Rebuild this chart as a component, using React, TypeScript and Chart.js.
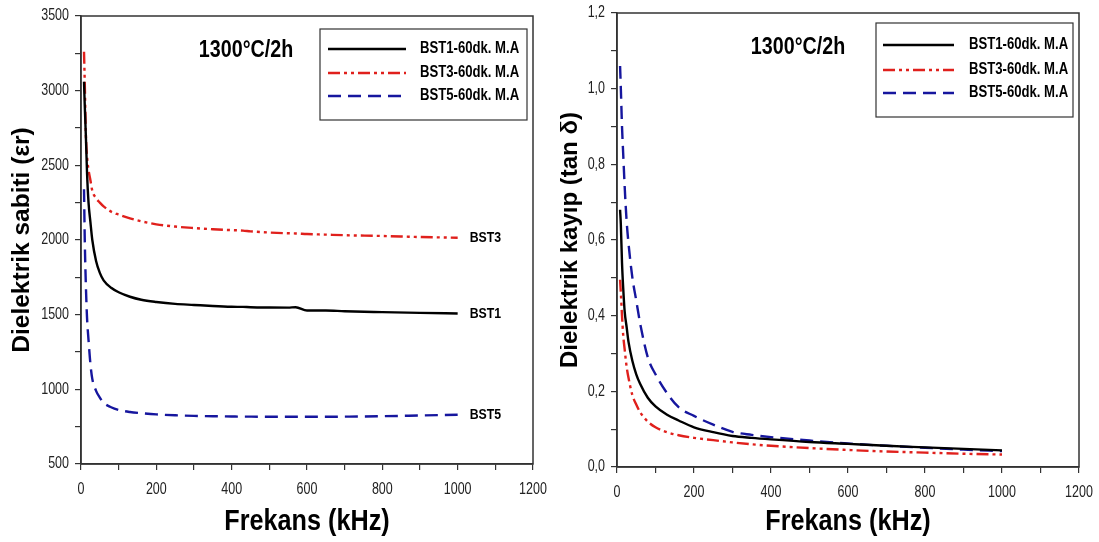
import React, { useEffect, useRef } from "react";
import { Chart, registerables } from "chart.js";

Chart.register(...registerables);

const SANS = "'Liberation Sans', Arial, sans-serif";
const NARROW_SCALE = 0.82;

// ---------- Left chart: dielectric constant ----------
const epsFreq = [8, 10, 13, 16, 20, 25, 30, 40, 50, 60, 80, 100, 130, 160, 200, 250, 300, 350, 400, 430, 450, 500, 550, 570, 600, 650, 700, 800, 900, 1000];
const epsBST1 = [3060, 2900, 2690, 2450, 2250, 2120, 2000, 1860, 1780, 1730, 1680, 1650, 1620, 1600, 1585, 1572, 1565, 1558, 1553, 1552, 1550, 1548, 1547, 1550, 1528, 1528, 1523, 1517, 1512, 1508];
const epsBST3 = [3260, 3050, 2700, 2560, 2470, 2400, 2330, 2280, 2250, 2225, 2190, 2170, 2145, 2125, 2105, 2090, 2080, 2072, 2066, 2063, 2058, 2050, 2045, 2044, 2040, 2036, 2032, 2027, 2020, 2015];
const epsBST5 = [2340, 2000, 1690, 1480, 1330, 1170, 1070, 990, 945, 910, 880, 862, 848, 840, 832, 826, 822, 820, 818, 817, 817, 816, 816, 816, 816, 816, 817, 820, 825, 830];

// ---------- Right chart: dielectric loss ----------
const lossFreq = [8, 10, 13, 16, 20, 25, 30, 40, 50, 60, 80, 100, 130, 160, 200, 250, 300, 350, 400, 500, 600, 700, 800, 900, 1000];
const lossBST1 = [0.68, 0.64, 0.54, 0.475, 0.41, 0.37, 0.33, 0.28, 0.245, 0.22, 0.183, 0.16, 0.138, 0.123, 0.105, 0.092, 0.082, 0.077, 0.073, 0.066, 0.061, 0.056, 0.052, 0.048, 0.044];
const lossBST3 = [0.495, 0.46, 0.4, 0.35, 0.31, 0.265, 0.235, 0.19, 0.165, 0.145, 0.12, 0.105, 0.092, 0.084, 0.077, 0.071, 0.065, 0.06, 0.056, 0.05, 0.045, 0.041, 0.038, 0.035, 0.033];
const lossBST5 = [1.06, 1.0, 0.9, 0.83, 0.74, 0.65, 0.59, 0.5, 0.44, 0.38, 0.29, 0.245, 0.195, 0.158, 0.135, 0.112, 0.093, 0.085, 0.079, 0.07, 0.062, 0.056, 0.051, 0.046, 0.042];

const seriesNames = ["BST1-60dk. M.A", "BST3-60dk. M.A", "BST5-60dk. M.A"];
const endLabels = ["BST1", "BST3", "BST5"];
const chartTitle = "1300°C/2h";
const xTitle = "Frekans (kHz)";
const epsYTitle = "Dielektrik sabiti (εr)";
const lossYTitle = "Dielektrik kayıp (tan δ)";

const colors = ["#000000", "#e0201c", "#16169e"];
const dashes: number[][] = [[], [12, 4, 3, 4, 3, 4], [13, 7]];

const toPoints = (xs: number[], ys: number[]) => xs.map((x, i) => ({ x, y: ys[i] }));

function makeDatasets(xs: number[], series: number[][]) {
  return series.map((ys, i) => ({
    label: seriesNames[i],
    data: toPoints(xs, ys),
    borderColor: colors[i],
    backgroundColor: colors[i],
    borderWidth: 2.4,
    borderDash: dashes[i],
    pointRadius: 0,
    fill: false,
    cubicInterpolationMode: "monotone" as const,
  }));
}

function narrowText(ctx: any, text: string, x: number, y: number, font: string, align: string, sx = NARROW_SCALE) {
  ctx.save();
  ctx.font = font;
  ctx.textAlign = align;
  ctx.textBaseline = "middle";
  ctx.translate(x, y);
  ctx.scale(sx, 1);
  ctx.fillText(text, 0, 0);
  ctx.restore();
}

type Overlay = {
  titleX: number;
  titleY: number;
  box: { x: number; y: number; w: number; h: number };
  rows: number[];
  sampleX1: number;
  sampleX2: number;
  textX: number;
  xLabel: (v: number) => string;
  yLabel: (v: number) => string;
  endLabels?: string[];
};

function overlayPlugin(o: Overlay) {
  return {
    id: "overlay",
    afterDraw(chart: any) {
      const { ctx, chartArea: a } = chart;
      const xs = chart.scales.x;
      const ys = chart.scales.y;
      ctx.save();
      ctx.setLineDash([]);
      ctx.strokeStyle = "#333";
      ctx.lineWidth = 1.5;
      ctx.strokeRect(a.left, a.top, a.right - a.left, a.bottom - a.top);

      // tick labels (narrow)
      ctx.fillStyle = "#222";
      const tickFont = `16px ${SANS}`;
      xs.ticks.forEach((t: any) => {
        const s = o.xLabel(t.value);
        if (s) narrowText(ctx, s, xs.getPixelForValue(t.value), a.bottom + 26, tickFont, "center", 0.78);
      });
      ys.ticks.forEach((t: any) => {
        const s = o.yLabel(t.value);
        if (s) narrowText(ctx, s, a.left - 12, ys.getPixelForValue(t.value), tickFont, "right", 0.78);
      });

      // x axis title
      ctx.fillStyle = "#000";
      narrowText(ctx, xTitle, (a.left + a.right) / 2, 522, `bold 30px ${SANS}`, "center", 0.84);

      // chart title
      narrowText(ctx, chartTitle, o.titleX, o.titleY, `bold 24px ${SANS}`, "center");

      // legend
      ctx.strokeStyle = "#333";
      ctx.lineWidth = 1.2;
      ctx.strokeRect(o.box.x, o.box.y, o.box.w, o.box.h);
      chart.data.datasets.forEach((ds: any, i: number) => {
        const y = o.rows[i];
        ctx.beginPath();
        ctx.setLineDash(ds.borderDash || []);
        ctx.strokeStyle = ds.borderColor;
        ctx.lineWidth = 2.6;
        ctx.moveTo(o.sampleX1, y);
        ctx.lineTo(o.sampleX2, y);
        ctx.stroke();
        ctx.setLineDash([]);
        ctx.fillStyle = "#000";
        narrowText(ctx, ds.label, o.textX, y, `bold 16px ${SANS}`, "left");
      });

      if (o.endLabels) {
        ctx.fillStyle = "#000";
        chart.data.datasets.forEach((ds: any, i: number) => {
          const last = ds.data[ds.data.length - 1];
          narrowText(ctx, o.endLabels![i], xs.getPixelForValue(last.x) + 12, ys.getPixelForValue(last.y), `bold 15px ${SANS}`, "left");
        });
      }
      ctx.restore();
    },
  };
}

type Cfg = {
  datasets: any[];
  yMin: number;
  yMax: number;
  yStep: number;
  yTitle: string;
  yTitleSize: number;
  yWidth: number;
  yTitleOffset: number;
  padTop: number;
  padRight: number;
  xHeight: number;
  overlay: Overlay;
};

function buildConfig(c: Cfg): any {
  return {
    type: "line",
    data: { datasets: c.datasets },
    options: {
      animation: false,
      responsive: false,
      layout: { padding: { top: c.padTop, right: c.padRight, left: 0, bottom: 0 } },
      plugins: { legend: { display: false }, tooltip: { enabled: false } },
      scales: {
        x: {
          type: "linear",
          min: 0,
          max: 1200,
          afterFit: (s: any) => {
            s.height = c.xHeight;
          },
          ticks: { stepSize: 100, autoSkip: false, maxRotation: 0, display: false },
          grid: { drawOnChartArea: false, drawTicks: true, tickLength: 6, color: "#333", lineWidth: 1.2 },
          border: { display: true, color: "#333", width: 1.5 },
        },
        y: {
          type: "linear",
          min: c.yMin,
          max: c.yMax,
          afterFit: (s: any) => {
            s.width = c.yWidth;
          },
          ticks: { stepSize: c.yStep, autoSkip: false, display: false },
          grid: { drawOnChartArea: false, drawTicks: true, tickLength: 6, color: "#333", lineWidth: 1.2 },
          border: { display: true, color: "#333", width: 1.5 },
          title: {
            display: true,
            text: c.yTitle,
            color: "#000",
            font: { family: SANS, size: c.yTitleSize, weight: "bold", lineHeight: 1 },
            padding: { top: c.yTitleOffset, bottom: 0 },
          },
        },
      },
    },
    plugins: [overlayPlugin(c.overlay)],
  };
}

function ChartCanvas({ cfg, left, width }: { cfg: Cfg; left: number; width: number }) {
  const ref = useRef<HTMLCanvasElement | null>(null);
  useEffect(() => {
    if (!ref.current) return;
    const chart = new Chart(ref.current, buildConfig(cfg));
    return () => chart.destroy();
  }, []);
  return (
    <canvas
      ref={ref}
      width={width}
      height={542}
      style={{ position: "absolute", left, top: 0, width, height: 542 }}
    />
  );
}

const xTickLabel = (v: number) => (Math.round(v) % 200 === 0 ? String(Math.round(v)) : "");

export default function App() {
  const epsCfg: Cfg = {
    datasets: makeDatasets(epsFreq, [epsBST1, epsBST3, epsBST5]),
    yMin: 500,
    yMax: 3500,
    yStep: 250,
    yTitle: epsYTitle,
    yTitleSize: 24.5,
    yWidth: 81,
    yTitleOffset: 10,
    padTop: 16,
    padRight: 27,
    xHeight: 78,
    overlay: {
      titleX: 246,
      titleY: 50,
      box: { x: 320, y: 29, w: 207, h: 91 },
      rows: [49, 73, 96],
      sampleX1: 328,
      sampleX2: 406,
      textX: 420,
      xLabel: xTickLabel,
      yLabel: (v) => (Math.round(v) % 500 === 0 ? String(Math.round(v)) : ""),
      endLabels,
    },
  };
  const lossCfg: Cfg = {
    datasets: makeDatasets(lossFreq, [lossBST1, lossBST3, lossBST5]),
    yMin: 0,
    yMax: 1.2,
    yStep: 0.1,
    yTitle: lossYTitle,
    yTitleSize: 24,
    yWidth: 57,
    yTitleOffset: -2,
    padTop: 13,
    padRight: 20,
    xHeight: 75,
    overlay: {
      titleX: 238,
      titleY: 47,
      box: { x: 316, y: 23, w: 197, h: 94 },
      rows: [45, 70, 93],
      sampleX1: 323,
      sampleX2: 394,
      textX: 409,
      xLabel: xTickLabel,
      yLabel: (v) => {
        const k = Math.round(v * 10);
        return k % 2 === 0 ? (k / 10).toFixed(1).replace(".", ",") : "";
      },
    },
  };
  return (
    <div style={{ position: "absolute", left: 0, top: 0, width: 1099, height: 542, background: "#fff" }}>
      <ChartCanvas cfg={epsCfg} left={0} width={560} />
      <ChartCanvas cfg={lossCfg} left={560} width={539} />
    </div>
  );
}
